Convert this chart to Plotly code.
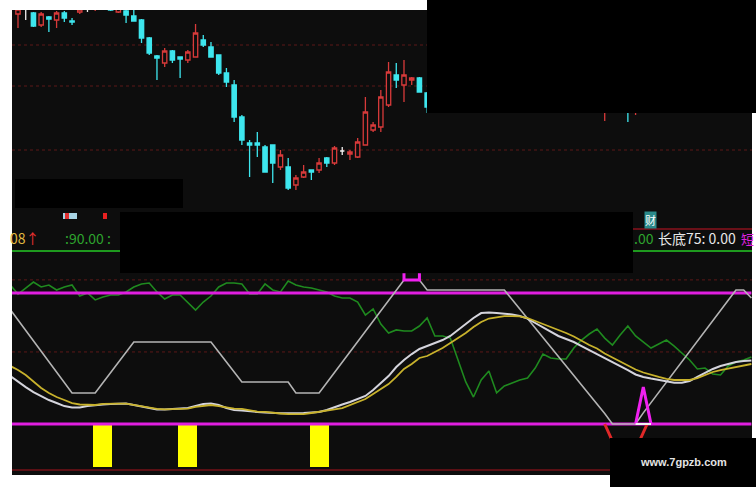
import plotly.graph_objects as go

# ---------------- data ----------------
# price panel (bar index -> OHLC)
CANDLE_X = list(range(0, 54)) + [76, 79, 80]
OPEN = [19.80, 20.10, 19.85, 19.25, 19.65, 19.50, 19.85, 19.45, 19.90, 20.05,
        20.05, 20.20, 20.25, 19.90, 19.95, 19.70, 19.50, 18.60, 17.70, 17.35,
        17.95, 17.65, 17.50, 17.65, 18.50, 18.15, 17.75, 16.85, 16.25, 14.65,
        13.35, 13.35, 13.15, 13.25, 12.15, 12.15, 11.25, 11.65, 12.00, 12.00,
        12.60, 12.35, 12.95, 12.80, 12.65, 13.25, 14.00, 14.15, 15.25, 16.75,
        16.25, 16.50, 16.60, 15.85, 15.25, 15.50, 15.20]
HIGH = [20.25, 20.35, 19.90, 19.90, 19.70, 19.95, 19.95, 19.60, 20.20, 20.20,
        20.35, 20.50, 20.35, 20.35, 20.05, 20.00, 19.55, 18.65, 17.75, 18.10,
        18.00, 17.65, 18.00, 19.30, 18.75, 18.40, 17.75, 17.10, 16.50, 14.75,
        13.50, 13.90, 13.25, 13.25, 13.00, 12.60, 11.75, 12.25, 12.00, 12.60,
        12.65, 13.20, 13.15, 13.00, 13.60, 15.65, 14.40, 16.00, 17.40, 17.35,
        17.50, 16.65, 16.65, 15.90, 16.00, 15.80, 15.70]
LOW = [19.10, 19.50, 19.15, 19.15, 18.90, 19.10, 19.40, 19.25, 19.80, 19.90,
       19.95, 20.10, 19.95, 19.85, 19.35, 19.45, 18.35, 17.75, 16.50, 17.15,
       17.35, 16.60, 17.35, 17.65, 18.15, 17.65, 16.75, 16.15, 14.40, 13.25,
       11.65, 12.65, 11.90, 11.35, 12.00, 11.00, 11.00, 11.60, 11.50, 11.85,
       12.15, 12.25, 12.75, 12.50, 12.60, 13.25, 13.90, 13.90, 15.15, 16.10,
       15.40, 16.25, 15.90, 14.85, 14.45, 14.40, 14.75]
CLOSE = [20.05, 20.10, 19.20, 19.80, 19.55, 19.85, 19.60, 19.40, 20.05, 20.05,
         20.25, 20.40, 20.00, 20.20, 19.75, 19.45, 18.60, 17.85, 17.60, 17.95,
         17.50, 17.55, 17.90, 18.85, 18.25, 17.65, 16.85, 16.40, 14.65, 13.50,
         13.25, 13.25, 11.90, 12.35, 12.75, 11.10, 11.60, 11.90, 11.90, 12.35,
         12.35, 13.10, 12.95, 12.90, 13.40, 14.90, 14.25, 15.65, 16.90, 16.50,
         16.75, 16.60, 15.90, 15.15, 15.75, 15.10, 15.50]
PRICE_GRID = [18.25, 16.2, 13.0]

# indicator panel (bar index -1 .. 95)
IND_X = list(range(-1, 96))
GREEN = [106.1, 99.2, 103.8, 108.4, 104.6, 106.1, 102.3, 104.6, 106.1, 97.7,
         100.0, 94.7, 96.9, 98.5, 98.5, 100.8, 104.6, 106.9, 107.6, 100.8,
         95.4, 98.5, 98.5, 92.4, 87.0, 93.1, 97.7, 104.6, 107.6, 107.6,
         106.9, 99.2, 99.2, 106.9, 102.3, 100.8, 109.2, 106.1, 104.6, 103.8,
         102.3, 100.8, 97.7, 96.2, 96.2, 93.1, 83.2, 87.8, 76.3, 69.5,
         71.8, 71.0, 71.0, 74.8, 80.9, 67.2, 67.2, 65.6, 48.9, 32.1,
         20.6, 33.6, 40.5, 23.7, 29.0, 31.3, 33.6, 35.1, 42.7, 53.4,
         50.4, 49.6, 49.6, 58.0, 64.1, 68.7, 72.5, 65.6, 60.3, 67.9,
         74.8, 67.2, 62.6, 58.0, 61.1, 64.1, 59.5, 54.2, 48.9, 42.0,
         42.7, 38.2, 37.4, 44.3, 47.3, 48.9, 51.1]
ZIGZAG = [87.3, 79.4, 71.5, 63.7, 55.9, 48.1, 40.2, 32.4, 23.7, 23.7,
          23.7, 23.7, 31.5, 39.2, 47.0, 54.8, 62.6, 62.6, 62.6, 62.6,
          62.6, 62.6, 62.6, 62.6, 62.6, 62.6, 62.6, 55.0, 47.3, 39.7,
          32.1, 32.1, 32.1, 32.1, 32.1, 32.1, 32.1, 23.7, 23.7, 23.7,
          23.7, 31.5, 39.3, 47.2, 55.0, 62.9, 70.7, 78.5, 86.4, 94.3,
          102.1, 109.9, 109.9, 109.9, 102.3, 102.3, 102.3, 102.3, 102.3, 102.3,
          102.3, 102.3, 102.3, 102.3, 102.3, 95.0, 87.8, 80.5, 73.3, 66.0,
          58.8, 51.5, 44.3, 37.0, 29.8, 22.5, 15.3, 8.0, 0.0, 0.0,
          0.0, 0.0, 8.5, 16.4, 24.2, 32.0, 39.8, 47.6, 55.4, 63.2,
          71.1, 78.9, 86.6, 94.5, 102.3, 102.3, 96.2]
SMOOTH_W = [36.6, 32.1, 28.2, 24.4, 21.4, 18.3, 16.0, 13.7, 12.6, 12.6,
            13.7, 14.5, 14.9, 15.3, 15.6, 15.6, 14.5, 13.4, 11.8, 11.1,
            11.1, 11.5, 11.8, 12.2, 13.7, 15.3, 15.6, 14.5, 12.2, 10.7,
            10.3, 9.5, 9.2, 8.8, 8.4, 8.2, 8.2, 8.2, 8.4, 8.8,
            9.2, 10.7, 13.0, 14.9, 16.8, 19.1, 21.4, 26.0, 31.3, 36.6,
            43.5, 48.9, 53.4, 57.3, 59.5, 61.8, 64.1, 67.2, 71.8, 76.3,
            80.9, 84.7, 85.1, 84.7, 84.4, 83.6, 82.4, 80.5, 77.1, 73.7,
            70.2, 67.2, 64.9, 62.6, 59.5, 56.5, 53.4, 50.8, 47.3, 44.3,
            41.2, 37.8, 35.9, 34.7, 33.6, 32.1, 31.5, 31.5, 32.8, 35.9,
            38.9, 42.0, 44.3, 45.8, 47.3, 48.1, 48.5]
SMOOTH_Y = [44.3, 41.2, 37.4, 32.1, 27.5, 23.7, 20.6, 18.3, 16.0, 14.9,
            14.5, 14.5, 15.3, 15.6, 15.6, 15.6, 14.5, 13.7, 12.6, 11.5,
            11.1, 11.5, 11.8, 11.8, 13.0, 13.7, 14.5, 13.7, 12.6, 11.8,
            11.5, 10.3, 9.5, 9.2, 8.4, 8.0, 7.6, 7.6, 7.6, 8.4,
            9.2, 9.9, 11.1, 12.2, 14.5, 16.8, 19.1, 22.9, 26.7, 30.5,
            35.9, 42.0, 45.8, 50.4, 51.9, 55.0, 58.0, 61.8, 65.6, 69.5,
            74.0, 77.9, 80.5, 81.7, 82.4, 82.4, 82.1, 80.9, 78.6, 76.7,
            74.0, 71.8, 69.5, 66.8, 63.4, 60.3, 57.6, 53.8, 50.8, 47.7,
            44.7, 41.6, 39.3, 37.4, 35.9, 34.4, 33.6, 33.6, 33.6, 35.1,
            37.4, 39.7, 41.2, 42.4, 43.5, 44.7, 45.8]
LEVELS = [100, 0]
IND_GRID = [110, 55]
BAR_X = [11, 22, 39]
BAR_Y = [-33, -33, -33]
SPIKE_X = [80, 81, 82]
SPIKE_Y = [0, 28.2, 0]
DIP_X = [76, 78.75, 81.5]
DIP_Y = [0, -36, 0]
TOP_X = [50, 50, 52, 52]
TOP_Y = [115, 110, 110, 115]
BASE_X = [80, 82]
BASE_Y = [0, 0]

# ---------------- layout helpers (pixel -> paper) ----------------
W, H = 756, 487
def px(x):
    return x / W
def py(y):
    return 1 - y / H

X_RANGE = [-0.777, 95.08]
BG = "#0d0d0d"
RED = "#d83a3a"
CYAN = "#3ee6ee"

fig = go.Figure()

# candles grouped by colour
groups = {"up": ([], RED, BG), "down": ([], CYAN, CYAN), "doji": ([], "#f0f0f0", "#f0f0f0")}
for i in range(len(CANDLE_X)):
    key = "up" if CLOSE[i] > OPEN[i] else ("down" if CLOSE[i] < OPEN[i] else "doji")
    groups[key][0].append(i)
for key, (ids, col, fill) in groups.items():
    style = dict(line=dict(color=col, width=1.3), fillcolor=fill)
    fig.add_trace(go.Candlestick(
        x=[CANDLE_X[i] for i in ids], open=[OPEN[i] for i in ids],
        high=[HIGH[i] for i in ids], low=[LOW[i] for i in ids],
        close=[CLOSE[i] for i in ids],
        increasing=style, decreasing=style, whiskerwidth=0,
        xaxis="x", yaxis="y", hoverinfo="skip"))

# indicator panel
fig.add_trace(go.Bar(x=BAR_X, y=BAR_Y, base=0, width=2.46, marker=dict(color="#ffff00", line=dict(width=0)),
                     xaxis="x2", yaxis="y2", hoverinfo="skip"))
fig.add_trace(go.Scatter(x=IND_X, y=GREEN, mode="lines", line=dict(color="#1f8a1f", width=1.6),
                         xaxis="x2", yaxis="y2", hoverinfo="skip"))
for lv in LEVELS:
    fig.add_trace(go.Scatter(x=[IND_X[0], IND_X[-1]], y=[lv, lv], mode="lines",
                             line=dict(color="#e01ee0", width=3), xaxis="x2", yaxis="y2", hoverinfo="skip"))
fig.add_trace(go.Scatter(x=IND_X, y=ZIGZAG, mode="lines", line=dict(color="#b4b4b4", width=1.6),
                         xaxis="x2", yaxis="y2", hoverinfo="skip"))
fig.add_trace(go.Scatter(x=IND_X, y=SMOOTH_W, mode="lines", line=dict(color="#d4d4dc", width=2),
                         xaxis="x2", yaxis="y2", hoverinfo="skip"))
fig.add_trace(go.Scatter(x=IND_X, y=SMOOTH_Y, mode="lines", line=dict(color="#c8b22c", width=1.8),
                         xaxis="x2", yaxis="y2", hoverinfo="skip"))
fig.add_trace(go.Scatter(x=SPIKE_X, y=SPIKE_Y, mode="lines", line=dict(color="#f020f0", width=3),
                         xaxis="x2", yaxis="y2", hoverinfo="skip"))
fig.add_trace(go.Scatter(x=DIP_X, y=DIP_Y, mode="lines", line=dict(color="#e02828", width=3),
                         xaxis="x2", yaxis="y2", hoverinfo="skip"))
fig.add_trace(go.Scatter(x=TOP_X, y=TOP_Y, mode="lines", line=dict(color="#f020f0", width=3),
                         xaxis="x2", yaxis="y2", hoverinfo="skip"))
fig.add_trace(go.Scatter(x=BASE_X, y=BASE_Y, mode="lines", line=dict(color="#f4f4f4", width=2),
                         xaxis="x2", yaxis="y2", hoverinfo="skip"))

shapes = []
# dark chart background
shapes.append(dict(type="rect", xref="paper", yref="paper", x0=px(12), x1=px(752), y0=py(475), y1=py(10),
                   fillcolor=BG, line=dict(width=0), layer="below"))
for g in PRICE_GRID:
    shapes.append(dict(type="line", xref="paper", yref="y", x0=px(12), x1=px(752), y0=g, y1=g,
                       line=dict(color="#5c1818", width=1, dash="dot"), layer="below"))
for g in IND_GRID:
    shapes.append(dict(type="line", xref="paper", yref="y2", x0=px(12), x1=px(752), y0=g, y1=g,
                       line=dict(color="#5c1818", width=1, dash="dot"), layer="below"))
# panel borders / header lines
shapes.append(dict(type="line", xref="paper", yref="paper", x0=px(12), x1=px(752), y0=py(470), y1=py(470),
                   line=dict(color="#5a0f14", width=2), layer="below"))
shapes.append(dict(type="line", xref="paper", yref="paper", x0=px(12), x1=px(120), y0=py(251), y1=py(251),
                   line=dict(color="#1e9a1e", width=2), layer="below"))
shapes.append(dict(type="line", xref="paper", yref="paper", x0=px(633), x1=px(752), y0=py(251), y1=py(251),
                   line=dict(color="#1e9a1e", width=2), layer="below"))
shapes.append(dict(type="line", xref="paper", yref="paper", x0=px(633), x1=px(752), y0=py(229), y1=py(229),
                   line=dict(color="#6a1018", width=2), layer="below"))
# small header icons
shapes.append(dict(type="rect", xref="paper", yref="paper", x0=px(63), x1=px(77), y0=py(219), y1=py(213),
                   fillcolor="#a8d4e4", line=dict(width=0), layer="below"))
shapes.append(dict(type="rect", xref="paper", yref="paper", x0=px(65), x1=px(69), y0=py(219), y1=py(213),
                   fillcolor="#e03030", line=dict(width=0), layer="below"))
shapes.append(dict(type="rect", xref="paper", yref="paper", x0=px(103), x1=px(107), y0=py(219), y1=py(213),
                   fillcolor="#e82020", line=dict(width=0), layer="below"))
# redaction boxes
for (x0, y0, x1, y1) in [(15, 179, 183, 208), (120, 212, 633, 273), (427, 0, 756, 113), (610, 438, 756, 487)]:
    shapes.append(dict(type="rect", xref="paper", yref="paper", x0=px(x0), x1=px(x1), y0=py(y1), y1=py(y0),
                       fillcolor="#000000", line=dict(width=0), layer="above"))

FONT = "Noto Sans CJK SC, Liberation Sans, sans-serif"
ann = []
def text(t, x, y, color, size=14, xanchor="left", **kw):
    ann.append(dict(text=t, x=px(x), y=py(y), xref="paper", yref="paper", showarrow=False,
                    xanchor=xanchor, yanchor="middle", font=dict(color=color, size=size, family=FONT), **kw))
text("08<span style='color:#e83030'>↑</span>", 8, 238, "#e0b840")
text(":90.00 :", 63, 238, "#2ea42e")
text(".00", 632, 238, "#2ea42e")
text("长底75: 0.00", 656, 238, "#e8e8e8")
text("短", 739, 238, "#e020e0", size=13)
text("财", 650, 220, "#ffffff", size=11, xanchor="center", bgcolor="#2a8a8a", borderpad=0)
ann.append(dict(text="<b>www.7gpzb.com</b>", x=px(683), y=py(462), xref="paper", yref="paper", showarrow=False,
                xanchor="center", yanchor="middle",
                font=dict(color="#e4e4e4", size=11, family="Liberation Sans, Arial, sans-serif")))

ax_common = dict(visible=False, showgrid=False, zeroline=False, fixedrange=True)
fig.update_layout(
    width=W, height=H, margin=dict(l=0, r=0, t=0, b=0),
    paper_bgcolor="#ffffff", plot_bgcolor="rgba(0,0,0,0)",
    showlegend=False, hovermode=False, dragmode=False,
    xaxis=dict(domain=[px(12), px(752)], range=X_RANGE, anchor="y", rangeslider=dict(visible=False), **ax_common),
    yaxis=dict(domain=[py(210), py(10)], range=[10, 20], anchor="x", **ax_common),
    xaxis2=dict(domain=[px(12), px(752)], range=X_RANGE, anchor="y2", **ax_common),
    yaxis2=dict(domain=[py(470), py(272)], range=[-35.11, 116.03], anchor="x2", **ax_common),
    shapes=shapes, annotations=ann, bargap=0, boxgap=0.2,
)

fig.write_html("out.html", config={"displayModeBar": False},
               post_script="document.body.style.margin='0';document.body.style.overflow='hidden';")
